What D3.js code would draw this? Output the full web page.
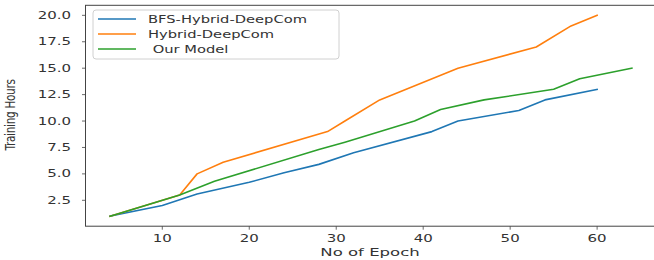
<!DOCTYPE html>
<html>
<head>
<meta charset="utf-8">
<script src="https://cdn.jsdelivr.net/npm/d3@7"></script>
<style>
  body { margin: 0; background: #fff; }
  text { font-family: "DejaVu Sans", sans-serif; fill: #333; }
</style>
</head>
<body>
<svg id="chart" width="654" height="260"></svg>
<script>
// values
var seriesNames = ["BFS-Hybrid-DeepCom", "Hybrid-DeepCom", " Our Model"];
var seriesColors = ["#1f77b4", "#ff7f0e", "#2ca02c"];

var bfsEpoch = [4, 10, 14, 20, 24, 28, 32, 41, 44, 51, 54, 60];
var bfsHours = [1, 2, 3.1, 4.2, 5.1, 5.9, 7.0, 9.0, 10.0, 11.0, 12.0, 13.0];

var hybEpoch = [4, 12, 14, 17, 29, 31, 35, 44, 53, 57, 60];
var hybHours = [1, 3, 5, 6.1, 9, 10, 12, 15, 17, 19, 20];

var ourEpoch = [4, 12, 16, 28, 31, 39, 42, 47, 55, 58, 64];
var ourHours = [1, 3, 4.3, 7.3, 8, 10, 11.1, 12, 13, 14, 15];

var xTicks = [10, 20, 30, 40, 50, 60];
var yTicks = [2.5, 5, 7.5, 10, 12.5, 15, 17.5, 20];

var series = [
  { name: seriesNames[0], color: seriesColors[0], pts: d3.zip(bfsEpoch, bfsHours) },
  { name: seriesNames[1], color: seriesColors[1], pts: d3.zip(hybEpoch, hybHours) },
  { name: seriesNames[2], color: seriesColors[2], pts: d3.zip(ourEpoch, ourHours) }
];

var svg = d3.select("#chart"),
    plotL = 85.5, plotR = 658, plotT = 5.3, plotB = 226.2,
    sx = 1.5; // the picture is stretched sideways

var x = d3.scaleLinear().domain([1.17, 67]).range([plotL, plotR]);
var y = d3.scaleLinear().domain([0.05, 20.95]).range([plotB, plotT]);

// stretched text helper
function stext(g, tx, ty, str, anchor, size, k) {
  return g.append("text")
    .attr("transform", "translate(" + tx + "," + ty + ") scale(" + (k || sx) + ",1)")
    .attr("text-anchor", anchor)
    .style("font-size", size + "px")
    .text(str);
}

var axisColor = "#444";

// lines
var line = d3.line().x(function(d) { return x(d[0]); }).y(function(d) { return y(d[1]); });
series.forEach(function(s) {
  svg.append("path")
    .attr("d", line(s.pts))
    .attr("fill", "none")
    .attr("stroke", s.color)
    .attr("stroke-width", 1.6)
    .attr("stroke-linejoin", "round")
    .attr("stroke-linecap", "square");
});

// frame
svg.append("rect")
  .attr("x", plotL).attr("y", plotT)
  .attr("width", plotR - plotL).attr("height", plotB - plotT)
  .attr("fill", "none").attr("stroke", axisColor).attr("stroke-width", 1);

// x ticks
var gx = svg.append("g");
xTicks.forEach(function(t) {
  gx.append("line").attr("x1", x(t)).attr("x2", x(t))
    .attr("y1", plotB).attr("y2", plotB + 3.5)
    .attr("stroke", axisColor).attr("stroke-width", 0.8);
  stext(gx, x(t), 242, d3.format("d")(t), "middle", 10);
});

// y ticks
var gy = svg.append("g");
yTicks.forEach(function(t) {
  gy.append("line").attr("x1", plotL - 3.5).attr("x2", plotL)
    .attr("y1", y(t)).attr("y2", y(t))
    .attr("stroke", axisColor).attr("stroke-width", 0.8);
  stext(gy, 71, y(t) + 3.6, d3.format(".1f")(t), "end", 10);
});

// axis labels
stext(svg, 370, 256, "No of Epoch", "middle", 11);
svg.append("text")
  .attr("transform", "translate(15,115) scale(1.3,1) rotate(-90)")
  .attr("text-anchor", "middle")
  .style("font-size", "10.5px")
  .style("letter-spacing", "-0.3px")
  .text("Training Hours");

// legend
var lg = svg.append("g");
lg.append("rect")
  .attr("x", 93).attr("y", 10).attr("width", 246).attr("height", 49)
  .attr("rx", 3).attr("fill", "#fff").attr("fill-opacity", 0.8)
  .attr("stroke", "#d0d0d0").attr("stroke-width", 1);
series.forEach(function(s, i) {
  var ly = 19 + i * 15;
  lg.append("line").attr("x1", 98).attr("x2", 136)
    .attr("y1", ly).attr("y2", ly)
    .attr("stroke", s.color).attr("stroke-width", 1.6);
  stext(lg, 148, ly + 3.7, s.name, "start", 10, 1.47).style("white-space", "pre");
});
</script>
</body>
</html>
